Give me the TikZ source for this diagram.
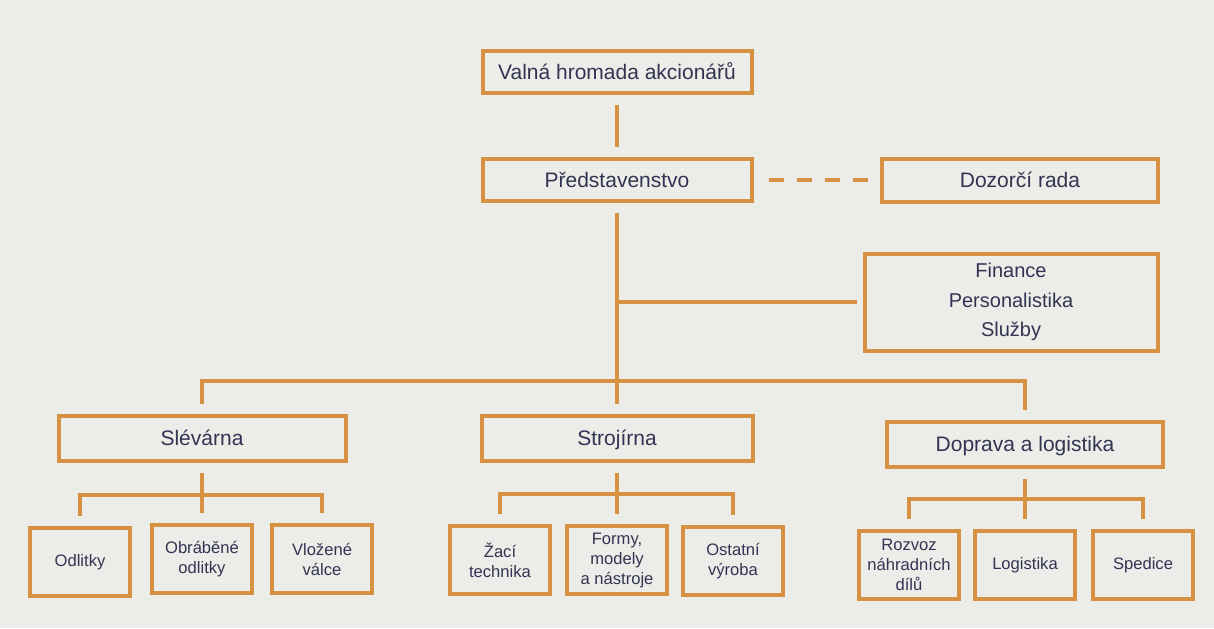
\documentclass[tikz,border=0pt]{standalone}
\usepackage{fontspec}
\setmainfont{Liberation Sans}
\definecolor{boxorange}{RGB}{214,146,66}
\definecolor{textnavy}{RGB}{50,52,82}
\definecolor{paper}{RGB}{236,236,233}

\begin{document}
\begin{tikzpicture}[x=0.5pt,y=-0.5pt,
  every node/.style={text=textnavy, inner sep=0pt},
  mainbox/.style={draw=boxorange, line width=2pt, minimum width=134.5pt, minimum height=21pt, text height=7.5pt, text depth=0pt, font=\fontsize{10.5}{13}\selectfont},
  subbox/.style={draw=boxorange, line width=2pt, minimum width=50pt, minimum height=34pt, align=center, font=\fontsize{8.3}{10}\selectfont},
  conn/.style={draw=boxorange, line width=2pt, shorten <=5pt, shorten >=5pt}]
\fill [paper] (0,0) rectangle (1214,628);
\node [mainbox] (valna) at (617,72) {Valná hromada akcionářů};
\node [mainbox] (predst) at (617,180) {Představenstvo};
\node [mainbox, minimum width=138pt, minimum height=21.5pt] (dozor) at (1020,180) {Dozorčí rada};
\node [draw=boxorange, line width=2pt, minimum width=146.5pt, minimum height=48.5pt, align=center, font=\fontsize{10}{14.75}\selectfont] (finance) at (1011,302) {Finance\\Personalistika\\Služby};
\node [mainbox, minimum width=143.5pt, minimum height=22.5pt] (slevarna) at (202,438) {Slévárna};
\node [mainbox, minimum width=135.5pt, minimum height=22.5pt] (strojirna) at (617,438) {Strojírna};
\node [mainbox, minimum width=138pt, minimum height=22.5pt] (doprava) at (1025,444) {Doprava a logistika};
\node [subbox] (odlitky) at (80,562) {Odlitky};
\node [subbox] (obrabene) at (202,559) {Obráběné\\odlitky};
\node [subbox] (valce) at (322,559) {Vložené\\válce};
\node [subbox] (zaci) at (500,560) {Žací\\technika};
\node [subbox] (formy) at (617,560) {Formy,\\modely\\a nástroje};
\node [subbox] (ostatni) at (733,561) {Ostatní\\výroba};
\node [subbox] (rozvoz) at (909,565) {Rozvoz\\náhradních\\dílů};
\node [subbox] (logistika) at (1025,565) {Logistika};
\node [subbox] (spedice) at (1143,565) {Spedice};
\coordinate (bar) at (617,381);
\coordinate (slbar) at (202,495);
\coordinate (stbar) at (617,494);
\coordinate (dobar) at (1025,499);
\draw [conn] (valna) -- (predst);
\draw [conn, dash pattern=on 7.5pt off 6.5pt, shorten <=7.5pt] (predst) -- (dozor);
\draw [conn, shorten >=0pt] (predst) -- (bar);
\draw [conn, shorten <=0pt, shorten >=3pt] (predst |- finance) -- (finance);
\draw [conn] (slevarna) |- (bar) -| (doprava);
\draw [conn, shorten <=0pt] (bar) -- (strojirna);
\draw [conn] (slevarna) -- (obrabene);
\draw [conn] (odlitky) |- (slbar) -| (valce);
\draw [conn] (strojirna) -- (formy);
\draw [conn] (zaci) |- (stbar) -| (ostatni);
\draw [conn] (doprava) -- (logistika);
\draw [conn] (rozvoz) |- (dobar) -| (spedice);
\end{tikzpicture}
\end{document}
